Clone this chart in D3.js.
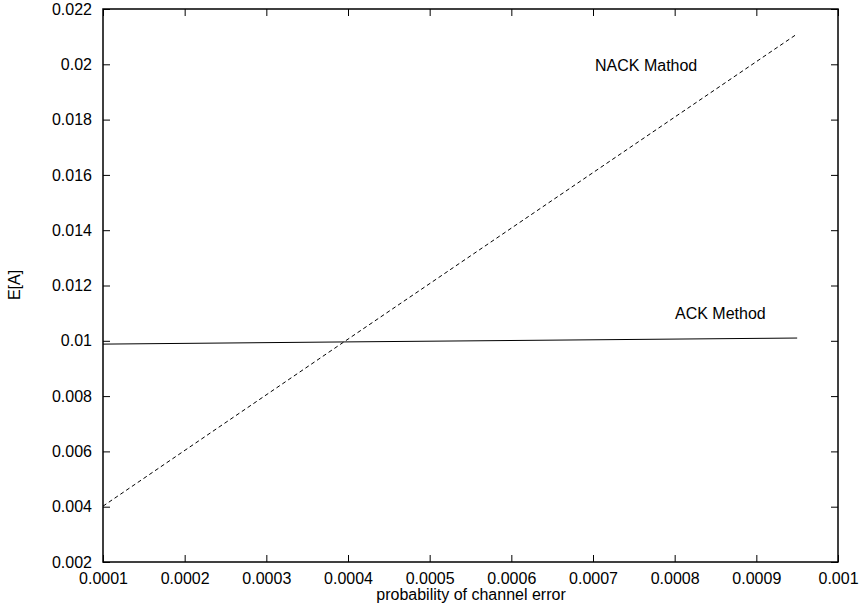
<!DOCTYPE html>
<html>
<head>
<meta charset="utf-8">
<script src="https://cdn.jsdelivr.net/npm/d3@7"></script>
<style>
  body { margin: 0; background: #fff; }
  text { font-family: "Liberation Sans", Arial, sans-serif; fill: #000; }
</style>
</head>
<body>
<div id="chart"></div>
<script>
// data
var errProb = [0.0001, 0.0004, 0.00095];
var ackVals = [0.00988, 0.00996, 0.0101];
var nackVals = [0.00402, 0.01006, 0.0211];
var xTicks = [0.0001, 0.0002, 0.0003, 0.0004, 0.0005, 0.0006, 0.0007, 0.0008, 0.0009, 0.001];
var yTicks = [0.002, 0.004, 0.006, 0.008, 0.01, 0.012, 0.014, 0.016, 0.018, 0.02, 0.022];

var width = 860, height = 609;
var margin = {left: 103, right: 22, top: 9, bottom: 47};

var svg = d3.select("#chart").append("svg")
    .attr("width", width)
    .attr("height", height);

var x = d3.scaleLinear()
    .domain([0.0001, 0.001])
    .range([margin.left, width - margin.right]);

var y = d3.scaleLinear()
    .domain([0.002, 0.022])
    .range([height - margin.bottom, margin.top]);

var fmt = function(d) { return +d.toPrecision(6) + ""; };
var fs = "16px";

// axes, ticks pointing inward, mirrored on top / right
svg.append("g")
    .attr("transform", "translate(0," + y.range()[0] + ")")
    .call(d3.axisBottom(x).tickValues(xTicks).tickSizeInner(-7).tickSizeOuter(0).tickPadding(11).tickFormat(fmt));
svg.append("g")
    .attr("transform", "translate(0," + y.range()[1] + ")")
    .call(d3.axisTop(x).tickValues(xTicks).tickSizeInner(-7).tickSizeOuter(0).tickFormat(""));
svg.append("g")
    .attr("transform", "translate(" + x.range()[0] + ",0)")
    .call(d3.axisLeft(y).tickValues(yTicks).tickSizeInner(-7).tickSizeOuter(0).tickPadding(11).tickFormat(fmt));
svg.append("g")
    .attr("transform", "translate(" + x.range()[1] + ",0)")
    .call(d3.axisRight(y).tickValues(yTicks).tickSizeInner(-7).tickSizeOuter(0).tickFormat(""));

svg.selectAll(".domain").remove();
svg.selectAll(".tick line").attr("stroke", "#000").attr("stroke-width", 1);
svg.selectAll(".tick text").style("font-size", fs).attr("fill", "#000");

// frame
svg.append("rect")
    .attr("x", x.range()[0])
    .attr("y", y.range()[1])
    .attr("width", x.range()[1] - x.range()[0])
    .attr("height", y.range()[0] - y.range()[1])
    .attr("fill", "none")
    .attr("stroke", "#000")
    .attr("stroke-width", 1.5);

var line = d3.line()
    .x(function(d) { return x(d[0]); })
    .y(function(d) { return y(d[1]); });

svg.append("path")
    .datum(d3.zip(errProb, ackVals))
    .attr("d", line)
    .attr("fill", "none")
    .attr("stroke", "#000")
    .attr("stroke-width", 1);

svg.append("path")
    .datum(d3.zip(errProb, nackVals))
    .attr("d", line)
    .attr("fill", "none")
    .attr("stroke", "#000")
    .attr("stroke-width", 1)
    .attr("stroke-dasharray", "4,3");

// line labels
svg.append("text")
    .attr("x", 595).attr("y", 71)
    .style("font-size", fs)
    .text("NACK Mathod");
svg.append("text")
    .attr("x", 675).attr("y", 319)
    .style("font-size", fs)
    .text("ACK Method");

// axis titles
svg.append("text")
    .attr("x", 471).attr("y", 600)
    .attr("text-anchor", "middle")
    .style("font-size", fs)
    .text("probability of channel error");
svg.append("text")
    .attr("transform", "translate(20,285) rotate(-90)")
    .attr("text-anchor", "middle")
    .style("font-size", fs)
    .text("E[A]");
</script>
</body>
</html>
